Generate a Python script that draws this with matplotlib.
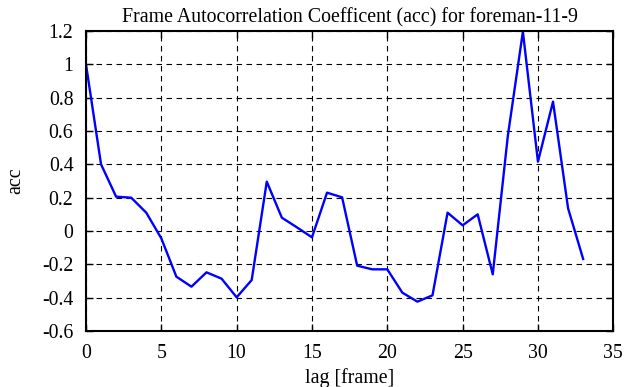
import matplotlib
matplotlib.use("Agg")
import matplotlib.pyplot as plt
from matplotlib.ticker import FuncFormatter

lags = list(range(34))
acc = [1.0, 0.40, 0.206, 0.20, 0.11, -0.044, -0.274, -0.334, -0.248, -0.286,
       -0.398, -0.294, 0.296, 0.08, 0.022, -0.038, 0.23, 0.202, -0.208, -0.23,
       -0.23, -0.37, -0.424, -0.386, 0.11, 0.034, 0.10, -0.26, 0.57, 1.196,
       0.416, 0.776, 0.136, -0.168]
xticks = [0, 5, 10, 15, 20, 25, 30, 35]
yticks = [-0.6, -0.4, -0.2, 0, 0.2, 0.4, 0.6, 0.8, 1, 1.2]

plt.rcParams['font.family'] = ['Liberation Serif', 'DejaVu Serif']
fig = plt.figure(figsize=(6.35, 3.87), dpi=100)
ax = fig.add_axes([0.1354, 0.1447, 0.8304, 0.7752])
ax.plot(lags, acc, color='#0000ff', lw=1.7)
ax.set_xlim(0, 35)
ax.set_ylim(-0.6, 1.2)
ax.set_xticks(xticks)
ax.set_yticks(yticks)
ax.yaxis.set_major_formatter(FuncFormatter(lambda v, p: f"{v:g}"))
ax.grid(True, color='black', linestyle=(0, (5, 4)), lw=0.8)
ax.tick_params(direction='in', top=True, right=True, labelsize=14.3, length=5, width=1)
ax.tick_params(axis='x', pad=9)
ax.tick_params(axis='y', pad=9)
for s in ax.spines.values():
    s.set_linewidth(1.5)
ax.set_xlabel('lag [frame]', fontsize=14.3, labelpad=4)
ax.set_ylabel('acc', fontsize=14.3, labelpad=12)
ax.set_title('Frame Autocorrelation Coefficent (acc) for foreman-11-9', fontsize=14.3, pad=6)
fig.savefig('out.png', dpi=100)
